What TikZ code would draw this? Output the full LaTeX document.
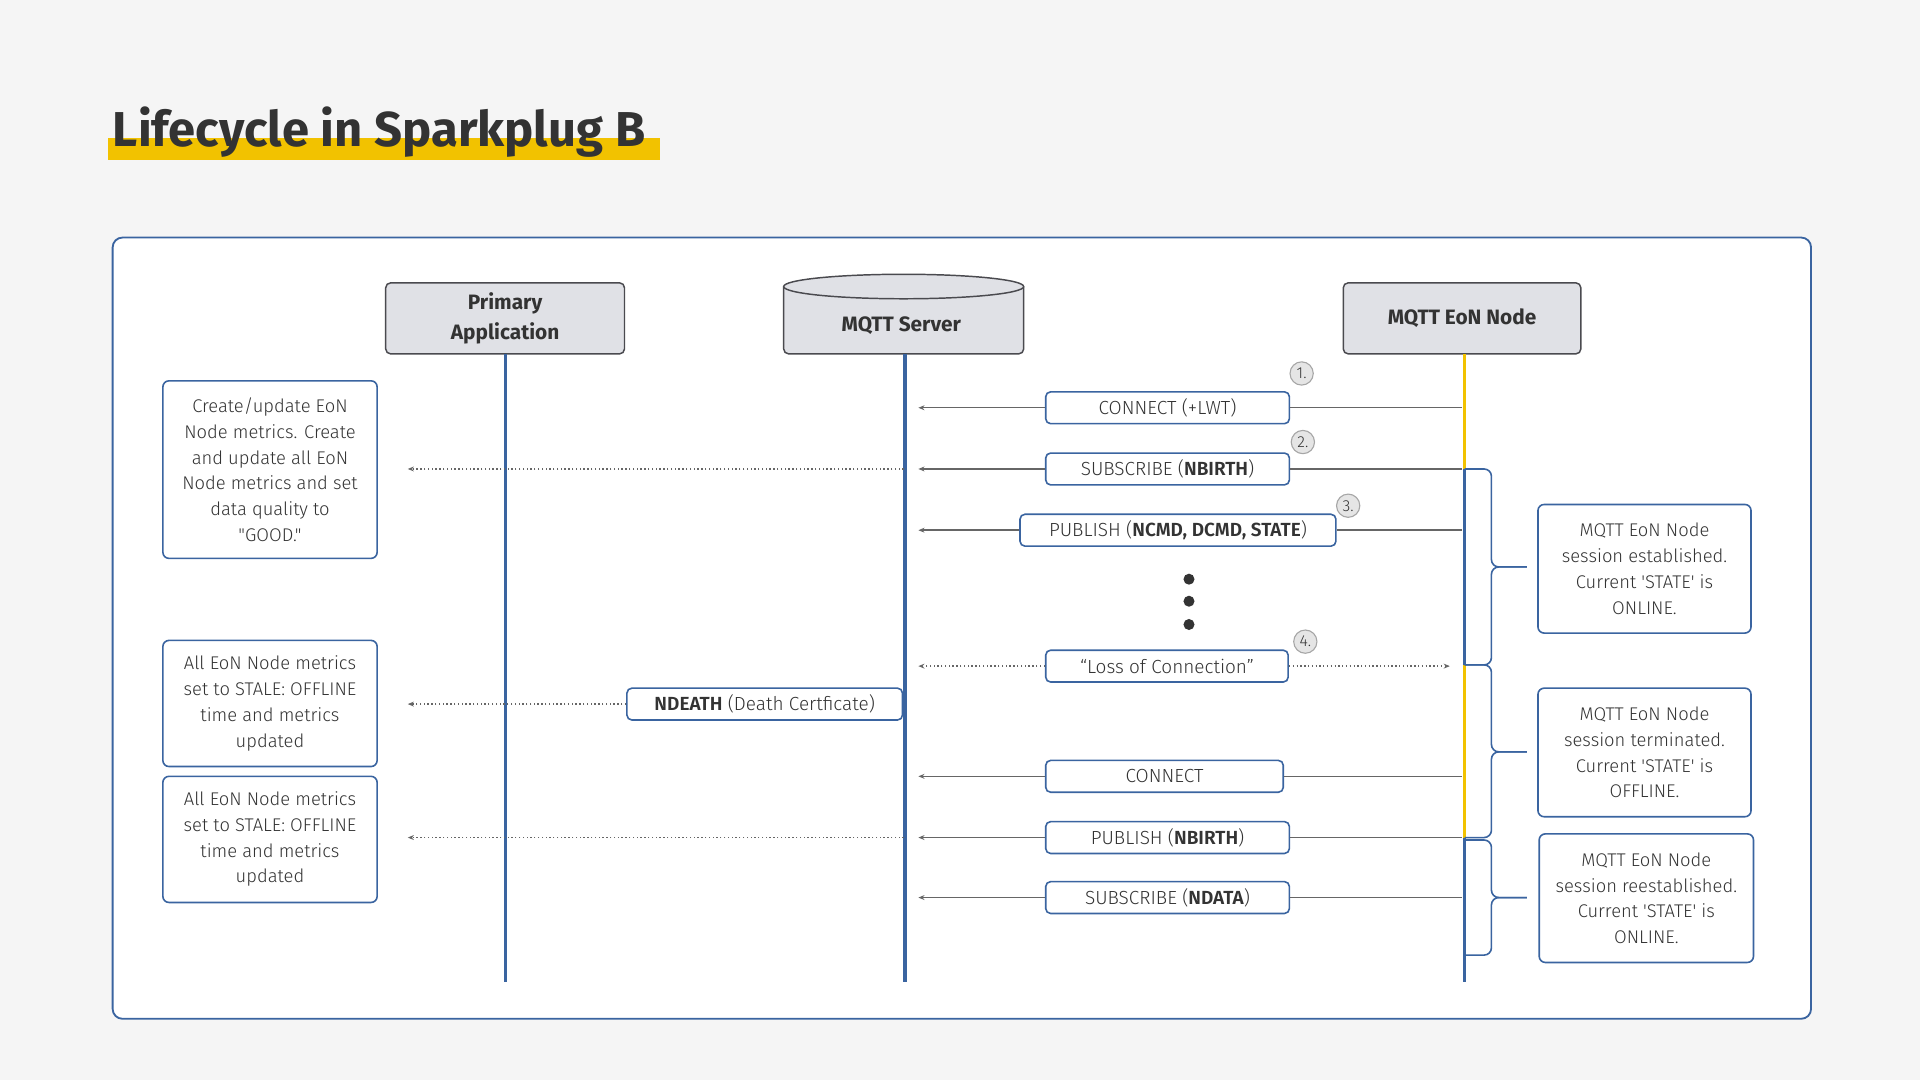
\documentclass[tikz,border=0pt]{standalone}
\usepackage{fontspec}
\setmainfont{Fira Sans}
\newfontfamily\lightf{Fira Sans Light}
\usetikzlibrary{arrows.meta}
\definecolor{bg}{HTML}{F5F5F5}
\definecolor{fr}{HTML}{3A64A0}
\definecolor{hd}{HTML}{E0E1E6}
\definecolor{hdline}{HTML}{4A4A4F}
\definecolor{txt}{HTML}{333333}
\definecolor{ln}{HTML}{666666}
\definecolor{yel}{HTML}{F2C200}
\begin{document}
\begin{tikzpicture}[x=1pt,y=-1pt,
  hdr/.style={draw=hdline,fill=hd,line width=1.2pt,rounded corners=4pt,text=txt,font=\bfseries\fontsize{17}{24}\selectfont,align=center,inner sep=0pt},
  note/.style={draw=fr,fill=white,line width=1.3pt,rounded corners=5pt,text=txt,font=\lightf\fontsize{15}{21}\selectfont,align=center,inner sep=0pt},
  msg/.style={draw=fr,fill=white,line width=1.3pt,rounded corners=4pt,text=txt,font=\lightf\fontsize{15.5}{18}\selectfont,inner sep=0pt,minimum height=26pt},
  life/.style={draw=fr,line width=2.6pt},
  sol/.style={draw=ln,line width=1.2pt},
  arr/.style={sol,-{Stealth[length=5pt,width=4pt]}},
  dot/.style={draw=ln,line width=1.1pt,dotted,-{Stealth[length=5pt,width=4pt]}},
  num/.style={circle,draw=gray!70,fill=gray!20,line width=0.9pt,minimum size=19pt,inner sep=0pt,text=txt,font=\lightf\fontsize{13}{13}\selectfont},
  br/.style={draw=fr,line width=1.3pt,rounded corners=6pt}]
\useasboundingbox (0,0) rectangle (1568,882);
\fill[bg] (0,0) rectangle (1568,882);
% title
\fill[yel] (88,113) rectangle (539,131);
\node[anchor=base west,inner sep=0pt,text=txt,font=\bfseries\fontsize{40}{44}\selectfont] (title) at (92,120) {Lifecycle in Sparkplug B};
% frame
\draw[fr,fill=white,line width=1.5pt,rounded corners=8pt] (92,194) rectangle (1479,832);
% headers
\node[hdr,minimum width=195pt,minimum height=58pt] (pa) at (412.5,260) {Primary\\Application};
\node[hdr,minimum width=194pt,minimum height=58pt] (eon) at (1194,260) {MQTT EoN Node};
\draw[hdline,fill=hd,line width=1.2pt,rounded corners=4pt] (640,234) -- (640,289) -- (836,289) -- (836,234);
\draw[hdline,fill=hd,line width=1.2pt] (738,234) ellipse [x radius=98, y radius=10];
\node[inner sep=0pt,text=txt,font=\bfseries\fontsize{17}{24}\selectfont] (srv) at (736,266) {MQTT Server};
% lifelines
\coordinate (paB) at (413,802); \coordinate (paT) at (413,289);
\coordinate (svB) at (739,802); \coordinate (svT) at (739,289);
\path[life] (paT) -- (paB);
\path[life] (svT) -- (svB);
\coordinate (e0) at (1196,289); \coordinate (e1) at (1196,383); \coordinate (e2) at (1196,543);
\coordinate (e3) at (1196,684); \coordinate (e4) at (1196,802);
\draw[yel,line width=2.6pt] (e0) -- (e1);
\path[life] (e1) -- (e2);
\draw[yel,line width=2.6pt] (e2) -- (e3);
\path[life] (e3) -- (e4);
% braces
\draw[br] (1196,383) -- (1218,383) -- (1218,463) -- (1247,463);
\draw[br] (1196,543) -- (1218,543) -- (1218,463) -- (1247,463);
\draw[br] (1196,543) -- (1218,543) -- (1218,614) -- (1247,614);
\draw[br] (1196,684) -- (1218,684) -- (1218,614) -- (1247,614);
\draw[br] (1196,686) -- (1218,686) -- (1218,733) -- (1247,733);
\draw[br] (1196,780) -- (1218,780) -- (1218,733) -- (1247,733);
% left notes
\node[note,minimum width=175pt,minimum height=145pt] (n1) at (220.5,383.5) {Create/update EoN\\Node metrics. Create\\and update all EoN\\Node metrics and set\\data quality to\\"GOOD."};
\node[note,minimum width=175pt,minimum height=103pt] (n2) at (220.5,574.5) {All EoN Node metrics\\set to STALE: OFFLINE\\time and metrics\\updated};
\node[note,minimum width=175pt,minimum height=103pt] (n3) at (220.5,685.5) {All EoN Node metrics\\set to STALE: OFFLINE\\time and metrics\\updated};
% right notes
\node[note,minimum width=174pt,minimum height=105pt] (r1) at (1343,464.5) {MQTT EoN Node\\session established.\\Current 'STATE' is\\ONLINE.};
\node[note,minimum width=174pt,minimum height=105pt] (r2) at (1343,614.5) {MQTT EoN Node\\session terminated.\\Current 'STATE' is\\OFFLINE.};
\node[note,minimum width=175pt,minimum height=105pt] (r3) at (1344.5,733.5) {MQTT EoN Node\\session reestablished.\\Current 'STATE' is\\ONLINE.};
% messages
\node[msg,minimum width=199pt] (m1) at (953.5,333) {CONNECT (+LWT)};
\node[msg,minimum width=199pt] (m2) at (953.5,383) {SUBSCRIBE (\textbf{NBIRTH})};
\node[msg,minimum width=258pt] (m3) at (962,433) {PUBLISH (\textbf{NCMD, DCMD, STATE})};
\node[msg,minimum width=198pt] (m4) at (953,544) {“Loss of Connection”};
\node[msg,minimum width=225pt] (m5) at (624.5,575) {\textbf{NDEATH} (Death Certficate)};
\node[msg,minimum width=194pt] (m6) at (951,634) {CONNECT};
\node[msg,minimum width=199pt] (m7) at (953.5,684) {PUBLISH (\textbf{NBIRTH})};
\node[msg,minimum width=199pt] (m8) at (953.5,733) {SUBSCRIBE (\textbf{NDATA})};
% endpoints
\foreach \n/\y in {1/333,2/383,3/433,6/634,7/684,8/733}{
  \coordinate (s\n) at (1194,\y); \coordinate (t\n) at (750,\y);
  \path[sol] (s\n) -- (m\n.east);
  \path[arr] (m\n.west) -- (t\n);
}
\coordinate (t4) at (750,544); \coordinate (u4) at (1184,544);
\path[dot] (m4.west) -- (t4);
\path[dot] (m4.east) -- (u4);
\coordinate (d2a) at (738,383); \coordinate (d2b) at (333,383);
\path[dot] (d2a) -- (d2b);
\coordinate (d5b) at (333,575);
\path[dot] (m5.west) -- (d5b);
\coordinate (d7a) at (738,684); \coordinate (d7b) at (333,684);
\path[dot] (d7a) -- (d7b);
% numbers
\node[num] (c1) at (1063,305) {1.};
\node[num] (c2) at (1064,361) {2.};
\node[num] (c3) at (1101,413) {3.};
\node[num] (c4) at (1066,524) {4.};
% ellipsis dots
\fill[txt] (971,473) circle (4.5pt) (971,491) circle (4.5pt) (971,510) circle (4.5pt);
\end{tikzpicture}
\end{document}
